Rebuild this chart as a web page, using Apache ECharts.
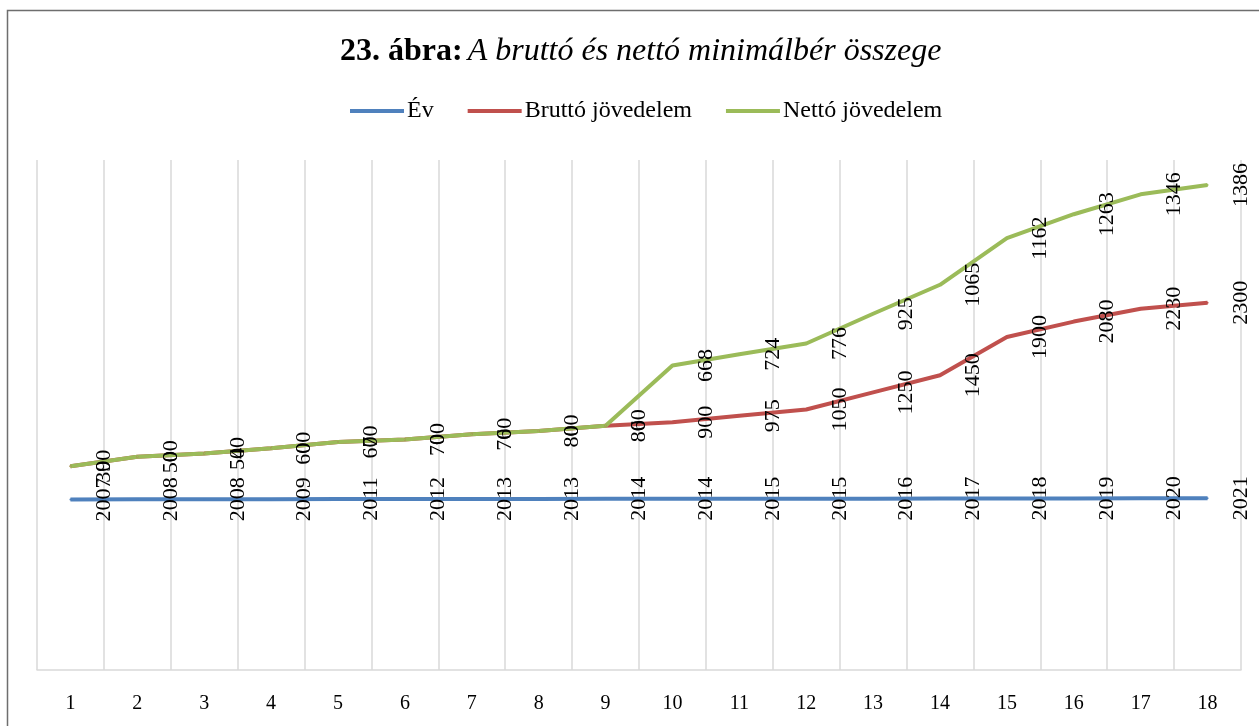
<!DOCTYPE html>
<html>
<head>
<meta charset="utf-8">
<script src="https://cdn.jsdelivr.net/npm/echarts@6/dist/echarts.min.js"></script>
<style>
html,body{margin:0;padding:0;background:#fff;}
#chart{width:1259px;height:726px;}
</style>
</head>
<body>
<div id="chart"></div>
<script>
const categories = ['1','2','3','4','5','6','7','8','9','10','11','12','13','14','15','16','17','18'];
const evValues = [2007,2008,2008,2009,2011,2012,2013,2013,2014,2014,2015,2015,2016,2017,2018,2019,2020,2021];
const bruttoValues = [390,500,540,600,670,700,760,800,860,900,975,1050,1250,1450,1900,2080,2230,2300];
const nettoValues = [0,0,0,0,0,0,0,0,0,668,724,776,925,1065,1162,1263,1346,1386];
const seriesNames = ['Év','Bruttó jövedelem','Nettó jövedelem'];
const seriesColors = ['#4f81bd','#c0504d','#9bbb59'];

const FONT = '"Liberation Serif", "Times New Roman", serif';
const chart = echarts.init(document.getElementById('chart'));

function lineSeries(name, data, color) {
  return {
    name: name,
    type: 'line',
    stack: 'total',
    data: data,
    symbol: 'circle',
    symbolSize: 2,
    showSymbol: true,
    itemStyle: { color: color },
    lineStyle: { color: color, width: 4 },
    emphasis: { disabled: true },
    label: {
      show: true,
      position: 'inside',
      rotate: 90,
      offset: [0, 33.5],
      align: 'center',
      verticalAlign: 'middle',
      color: '#000',
      fontFamily: FONT,
      fontSize: 22
    },
    z: 3
  };
}

chart.setOption({
  animation: false,
  backgroundColor: '#fff',
  graphic: [{
    type: 'rect',
    shape: { x: 7.5, y: 10.5, width: 1400, height: 900 },
    style: { fill: 'none', stroke: '#6e6e6e', lineWidth: 1.5 },
    silent: true,
    z: -10
  }],
  title: {
    text: '{b|23. ábra:} {i|A bruttó és nettó minimálbér összege}',
    left: 335,
    top: 31,
    textStyle: {
      rich: {
        b: { fontFamily: FONT, fontSize: 32, fontWeight: 'bold', color: '#000' },
        i: { fontFamily: FONT, fontSize: 32, fontWeight: 'normal', fontStyle: 'italic', color: '#000' }
      }
    }
  },
  legend: {
    top: 94,
    left: 345,
    icon: 'rect',
    itemWidth: 54,
    itemHeight: 4,
    itemGap: 34,
    data: seriesNames,
    textStyle: { fontFamily: FONT, fontSize: 24, color: '#000', padding: [0, 0, 0, -2] },
    selectedMode: false
  },
  grid: { left: 37, right: 18, top: 160, bottom: 56, containLabel: false },
  xAxis: {
    type: 'category',
    data: categories,
    boundaryGap: true,
    axisLine: { show: true, lineStyle: { color: '#d9d9d9', width: 1.5 } },
    axisTick: { show: false },
    splitLine: { show: true, lineStyle: { color: '#d9d9d9', width: 1.5 } },
    axisLabel: { color: '#000', fontFamily: FONT, fontSize: 20, margin: 24 }
  },
  yAxis: {
    type: 'value',
    min: 0,
    max: 6000,
    interval: 1000,
    show: false,
    splitLine: { show: false }
  },
  series: [
    lineSeries(seriesNames[0], evValues, seriesColors[0]),
    lineSeries(seriesNames[1], bruttoValues, seriesColors[1]),
    lineSeries(seriesNames[2], nettoValues, seriesColors[2])
  ]
});
</script>
</body>
</html>
